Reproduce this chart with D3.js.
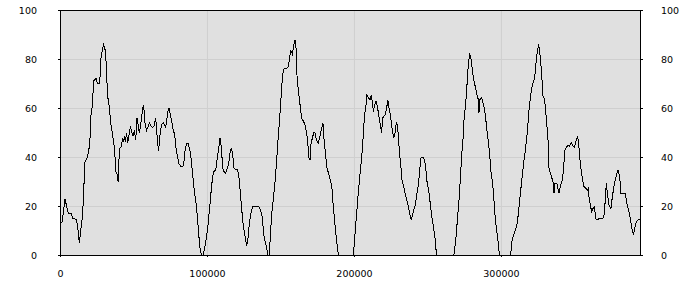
<!DOCTYPE html>
<html>
<head>
<meta charset="utf-8">
<script src="https://cdn.jsdelivr.net/npm/d3@7"></script>
<style>
    body { margin: 0; background: #fff; }
    #chart-area text { font-family: "DejaVu Sans", sans-serif; font-size: 9.5px; fill: #000; }
</style>
</head>
<body>
<div id="chart-area"></div>
<script>
// positions along the sequence
const positions = [
    1200, 1800, 3400, 4800, 5700, 7500, 8600, 10900, 12000, 12700, 13200, 14300, 15400, 16100, 17000, 18400,
    19300, 20200, 21100, 22000, 22900, 24500, 25600, 27000, 27900, 29000, 29700, 30600, 31300, 32400, 33600,
    34700, 35900, 37000, 38100, 38800, 39500, 39900, 40600, 41500, 42700, 43300, 43800, 44500, 45200, 46100,
    46900, 47900, 48800, 49700, 50600, 51500, 52400, 53300, 54000, 55100, 56100, 56900, 57800, 58800, 59700,
    60800, 61900, 63100, 64200, 65100, 66300, 67100, 67800, 69000, 70100, 71200, 71900, 72600, 73500, 74100,
    75300, 76200, 77100, 78000, 78900, 79900, 80700, 82100, 83700, 84400, 85300, 86400, 87100, 88000, 88900,
    89800, 90700, 91600, 92800, 93500, 94400, 95200, 96200, 97300, 98400, 99600, 100700, 101800, 103000,
    103900, 104800, 105900, 106800, 108000, 108800, 109800, 110700, 111600, 112700, 113900, 114800, 115600,
    116600, 117500, 118400, 119300, 120700, 121600, 122400, 123400, 124300, 125200, 126100, 127000, 127900,
    129000, 130200, 131300, 133800, 135400, 136700, 137700, 138600, 139500, 140600, 141300, 142200, 142900,
    144000, 145200, 146300, 147200, 148100, 149300, 150100, 150800, 151500, 152400, 154200, 155400, 156500,
    157100, 158100, 159000, 159900, 160500, 161200, 162200, 163300, 164400, 165600, 166700, 167800, 168500,
    169400, 170100, 170700, 171700, 172600, 173500, 174400, 175800, 176900, 178000, 178900, 179600, 180700,
    181600, 183000, 184200, 185000, 186000, 187100, 188200, 189400, 189800, 199600, 200500, 201400, 202300,
    203200, 204100, 205000, 205900, 206600, 207300, 208200, 208800, 210000, 210900, 211800, 212700, 213200,
    214100, 215000, 215900, 216800, 217700, 218800, 219500, 220400, 221400, 222200, 223100, 223800, 224800,
    225600, 226300, 227200, 228200, 228800, 229700, 230400, 231100, 232000, 232700, 233800, 235000, 236100,
    237200, 238100, 239000, 239900, 240800, 241800, 242700, 243500, 244500, 245400, 246300, 247400, 248600,
    249700, 250800, 252000, 253100, 254200, 255400, 256100, 268000, 269200, 270300, 271400, 272400, 273300,
    274100, 274800, 275500, 276500, 277300, 278000, 278700, 279400, 280100, 281000, 281900, 282800, 283700,
    284600, 285000, 285700, 286900, 287800, 288700, 289600, 290500, 291400, 292300, 293200, 294200, 295000,
    295900, 296900, 297800, 298600, 299300, 306600, 307300, 308400, 309500, 310700, 311800, 312700, 313600,
    314600, 315600, 316800, 318000, 318800, 319700, 320700, 321800, 322700, 323400, 324100, 325000, 325600,
    326300, 327000, 327700, 328600, 329300, 329900, 330400, 331300, 332000, 332700, 334300, 335400, 336100,
    336700, 338100, 339500, 340400, 341800, 342600, 343500, 344000, 345600, 346700, 347900, 349000, 350100,
    351300, 352200, 352900, 354000, 354900, 355800, 356500, 357600, 358800, 359500, 359900, 360800, 361700,
    362600, 363700, 364400, 365300, 367100, 369400, 370100, 371000, 371700, 372400, 373500, 374800, 375800,
    376900, 378000, 379600, 380800, 381600, 383000, 384600, 385700, 387100, 388200, 389100, 390100, 391000,
    392100, 393200, 394600
];

// value at each position (percent)
const values = [
    13, 15, 23, 19, 17, 17, 15, 14.5, 12, 7, 5, 11, 16.5, 26, 38, 39.5,
    42, 45, 57, 61, 71, 72, 70, 70, 80.5, 84.5, 86, 84, 79, 65, 60,
    53, 48.5, 43.6, 34, 33, 30, 37, 43.6, 44, 47.8, 46, 48.6, 46, 49.8, 45.8,
    48.6, 52.6, 50, 48.6, 51, 47, 56, 52.6, 49.8, 54, 59.3, 61.2, 54, 50.8, 52,
    54, 52.6, 52, 53, 56, 46.5, 42.4, 48, 53, 54, 53.2, 52, 55, 58.8, 60,
    56.5, 54, 50.6, 49.5, 43.7, 40.4, 37.5, 36.3, 36.3, 38.6, 43.7, 45.7, 45.7, 43.7, 41,
    35.5, 30, 25.3, 20, 15, 8.3, 2.9, 0, 0, 2.9, 7, 12.4, 19.2, 27.3,
    32.2, 34.2, 34.5, 38.6, 43.7, 47.8, 43.7, 35.5, 34, 33.4, 35.5, 37.5, 41.3,
    43.7, 41, 35.5, 35, 35, 32.5, 27.3, 20.5, 13.9, 10.3, 7, 3.7, 7,
    13.9, 18, 20, 20, 19.6, 17.8, 15, 8.3, 5.6, 2.9, 0, 0, 5.6,
    16.5, 23.2, 30, 36.9, 45, 54.6, 61.4, 68.2, 73.6, 75.9, 76.3, 77, 81.8,
    83.3, 82, 85.6, 87.9, 85.8, 73.6, 66.8, 61.4, 55.9, 54.6, 53.2, 49.8, 46.4,
    39.6, 39, 45, 47.8, 49.8, 49.8, 47, 45.7, 48.5, 51.8, 53.8, 47.6, 41,
    35.5, 32.8, 30, 27.3, 19.2, 12.4, 5.6, 0.2, 0, 0, 7, 13.9, 20.5,
    27.3, 32.8, 38.2, 45, 51.8, 57.3, 61.4, 65.2, 64.1, 63.4, 65.2, 61.4, 58.4,
    61.4, 63, 60.7, 57.3, 53.9, 49.8, 56, 56.6, 57.3, 60, 63.2, 60, 57.3,
    53.2, 49.8, 48, 50.5, 54.2, 52.6, 46.4, 41, 35.5, 30.7, 28, 24.6, 21.9,
    19.2, 16.5, 14.4, 16.5, 18.5, 20.5, 24.6, 27.3, 32.8, 39.6, 39.9, 39.6, 37,
    30, 26.6, 20.5, 15, 11, 5.6, 0, 0, 5.6, 13.9, 21.9, 31.4, 41,
    46.4, 54.6, 58.7, 65.4, 73.6, 79, 81.8, 81.1, 77.7, 73.6, 70.2, 68.2, 65.4,
    63.4, 58, 63.4, 64.1, 62, 60, 55.9, 50.5, 46.4, 41, 34.2, 30, 24.6,
    16.5, 11, 7, 2, 0, 0, 5, 7.7, 9.5, 11.8, 16.5, 21.9, 27.3,
    32.8, 38.2, 43.7, 50.5, 57.3, 62.7, 67.5, 70.2, 71.6, 75, 80.4, 83.8, 86.1,
    83.1, 79, 73.6, 64.8, 64.1, 62, 59, 52.4, 47, 35.4, 32, 30, 25.2,
    29, 29, 25.2, 28, 30.6, 35.4, 42.9, 43.5, 44.9, 44.5, 45.7, 44.5, 44,
    47, 48.4, 45, 37.4, 33.3, 30, 28, 27.3, 26.6, 27.3, 23.8, 20.4, 17.7,
    19, 19.7, 15, 14.3, 15, 15, 16.3, 22.4, 29.3, 25.2, 20.4, 19, 23.8,
    28, 31.3, 34.7, 32, 25.2, 25.2, 25.2, 21, 17.7, 14.3, 10.9, 8.2, 10.9,
    13.6, 14.3, 14.3
];

const xTicks = [0, 100000, 200000, 300000];
const yTicks = [0, 20, 40, 60, 80, 100];

class LinePlot {
    constructor(parentElement, positions, values) {
        this.parentElement = parentElement;
        this.positions = positions;
        this.values = values;
        this.initVis();
    }

    initVis() {
        let vis = this;

        vis.margin = {top: 10, right: 60, bottom: 45, left: 60};
        vis.width = 700 - vis.margin.left - vis.margin.right;
        vis.height = 300 - vis.margin.top - vis.margin.bottom;

        vis.svg = d3.select("#" + vis.parentElement).append("svg")
            .attr("width", 700)
            .attr("height", 300)
            .append("g")
            .attr("transform", "translate(" + vis.margin.left + "," + vis.margin.top + ")");

        vis.x = d3.scaleLinear().range([0, vis.width]);
        vis.y = d3.scaleLinear().domain([0, 100]).range([vis.height, 0]);

        // plot background
        vis.svg.append("rect")
            .attr("width", vis.width)
            .attr("height", vis.height)
            .attr("fill", "#e0e0e0");

        vis.gridX = vis.svg.append("g").attr("class", "grid-x");
        vis.gridY = vis.svg.append("g").attr("class", "grid-y");

        vis.path = vis.svg.append("path")
            .attr("fill", "none")
            .attr("stroke", "#000")
            .attr("stroke-width", 1)
            .attr("shape-rendering", "crispEdges");

        // frame
        vis.svg.append("rect")
            .attr("x", 0.5)
            .attr("y", 0.5)
            .attr("width", vis.width)
            .attr("height", vis.height)
            .attr("fill", "none")
            .attr("stroke", "#000");

        vis.xAxisG = vis.svg.append("g")
            .attr("class", "x-axis axis")
            .attr("transform", "translate(0," + vis.height + ")");
        vis.yAxisG = vis.svg.append("g").attr("class", "y-axis axis");
        vis.yAxisRightG = vis.svg.append("g")
            .attr("class", "y-axis-right axis")
            .attr("transform", "translate(" + vis.width + ",0)");

        vis.wrangleData();
    }

    wrangleData() {
        let vis = this;
        vis.displayData = vis.positions.map((p, i) => ({pos: p, val: vis.values[i]}));
        vis.updateVis();
    }

    updateVis() {
        let vis = this;

        vis.x.domain([0, d3.max(vis.positions)]);

        vis.gridX.call(d3.axisBottom(vis.x).tickValues(xTicks.slice(1))
                .tickSize(vis.height).tickFormat(""))
            .call(g => g.select(".domain").remove())
            .selectAll("line").attr("stroke", "#cfcfcf");

        vis.gridY.call(d3.axisLeft(vis.y).tickValues(yTicks.slice(1, -1))
                .tickSize(-vis.width).tickFormat(""))
            .call(g => g.select(".domain").remove())
            .selectAll("line").attr("stroke", "#cfcfcf");

        let line = d3.line()
            .x(d => vis.x(d.pos))
            .y(d => vis.y(d.val));
        vis.path.datum(vis.displayData).attr("d", line);

        vis.xAxisG.call(d3.axisBottom(vis.x).tickValues(xTicks)
            .tickSize(2).tickSizeOuter(0).tickPadding(13).tickFormat(d3.format("d")));
        vis.yAxisG.call(d3.axisLeft(vis.y).tickValues(yTicks)
            .tickSize(2).tickSizeOuter(0).tickPadding(21));
        vis.yAxisRightG.call(d3.axisRight(vis.y).tickValues(yTicks)
            .tickSize(3).tickSizeOuter(0).tickPadding(18));

        vis.svg.selectAll(".axis .domain").attr("stroke", "#000");
        vis.svg.selectAll(".axis .tick line").attr("stroke", "#000");
    }
}

let linePlot = new LinePlot("chart-area", positions, values);
</script>
</body>
</html>
